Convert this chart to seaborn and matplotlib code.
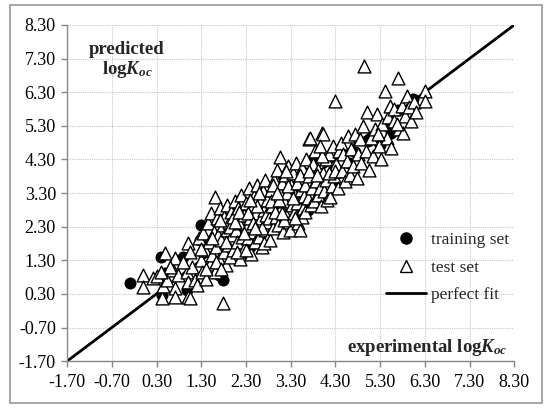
import numpy as np
import pandas as pd
import matplotlib
matplotlib.use("Agg")
import matplotlib.pyplot as plt
from matplotlib.lines import Line2D
from matplotlib.patches import Rectangle
import seaborn as sns

# training set (experimental, predicted)
train_x = [-0.29, 0.40, 0.49, 0.43, 0.90, 0.98, 1.30, 1.79, 1.70, 2.00, 2.33, 2.40,
           2.66, 2.62, 3.13, 3.62, 3.69, 3.50, 4.25, 4.41, 4.74, 5.03, 5.30, 5.41,
           5.55, 5.70, 6.04, 1.28, 1.95, 2.90, 3.30, 4.00, 4.60, 2.20, 3.80]
train_y = [0.62, 1.40, 0.92, 0.26, 1.40, 0.41, 2.35, 0.71, 0.85, 2.85, 1.51, 1.70,
           2.30, 3.24, 3.80, 3.90, 2.79, 2.85, 3.69, 4.58, 4.52, 4.85, 4.73, 5.32,
           5.09, 5.77, 6.10, 1.90, 2.40, 2.70, 3.50, 3.30, 4.20, 2.60, 4.30]

# test set (experimental, predicted)
test_x = [0.00, 0.00, 0.22, 0.31, 0.43, 0.45, 0.49, 0.54, 0.67, 0.72, 0.72, 0.72, 0.78,
          0.98, 1.00, 1.01, 1.01, 1.05, 1.05, 1.10, 1.16, 1.21, 0.60, 0.90, 0.40,
          1.25, 1.30, 1.32, 1.35, 1.38, 1.40, 1.45, 1.48, 1.50, 1.52, 1.55, 1.58, 1.60,
          1.61, 1.63, 1.65, 1.68, 1.70, 1.72, 1.75, 1.78, 1.79, 1.80, 1.82, 1.85, 1.87,
          1.88, 1.90, 1.92, 1.95, 1.97, 1.98, 1.40, 1.55, 1.72, 1.85, 1.95, 1.30, 1.62, 1.75,
          2.00, 2.02, 2.05, 2.07, 2.10, 2.12, 2.15, 2.17, 2.20, 2.22, 2.25, 2.27, 2.30,
          2.32, 2.35, 2.37, 2.40, 2.42, 2.44, 2.46, 2.48, 2.50, 2.52, 2.55, 2.57, 2.60,
          2.62, 2.64, 2.66, 2.68, 2.70, 2.72, 2.73, 2.75, 2.78, 2.80, 2.05, 2.15, 2.25,
          2.35, 2.45, 2.55, 2.65, 2.75, 2.10, 2.30, 2.50, 2.60, 2.70, 2.40,
          2.82, 2.84, 2.86, 2.88, 2.90, 2.92, 2.95, 2.97, 3.00, 3.02, 3.04, 3.07, 3.08,
          3.10, 3.12, 3.15, 3.17, 3.20, 3.22, 3.25, 3.27, 3.29, 3.30, 3.32, 3.35, 3.37,
          3.40, 3.42, 3.45, 3.47, 3.49, 3.51, 3.53, 3.55, 3.57, 3.59, 2.85, 2.95, 3.05,
          3.15, 3.25, 3.35, 3.45, 3.55, 2.90, 3.10, 3.20, 3.40, 3.50, 3.00,
          3.61, 3.63, 3.65, 3.68, 3.71, 3.72, 3.74, 3.75, 3.78, 3.80, 3.82, 3.85, 3.87,
          3.90, 3.92, 3.95, 3.97, 4.00, 4.02, 4.03, 4.05, 4.08, 4.10, 4.12, 4.15, 4.18,
          4.20, 4.22, 4.25, 4.28, 4.30, 4.32, 4.35, 4.38, 3.70, 3.88, 4.00, 4.15, 4.30, 3.95,
          4.42, 4.45, 4.48, 4.52, 4.55, 4.58, 4.62, 4.65, 4.70, 4.74, 4.78, 4.80, 4.85,
          4.88, 4.92, 4.94, 4.98, 5.00, 5.05, 5.10, 5.15, 5.18,
          5.22, 5.28, 5.32, 5.35, 5.41, 5.45, 5.48, 5.52, 5.55, 5.60, 5.62, 5.70, 5.72,
          5.78, 5.82, 5.85, 5.91, 5.95, 6.00, 6.05, 6.10, 6.31, 6.31, 5.25, 5.68]
test_y = [0.86, 0.50, 0.77, 0.83, 0.18, 0.53, 1.51, 0.70, 1.00, 1.36, 0.47, 0.21, 0.86,
          0.95, 0.21, 1.81, 0.65, 1.54, 0.18, 1.10, 0.70, 0.56, 1.10, 1.25, 0.95,
          1.95, 1.30, 0.95, 2.10, 1.60, 0.75, 2.40, 1.85, 1.20, 2.70, 1.45, 2.15, 0.95,
          3.18, 1.70, 2.55, 2.05, 1.35, 2.85, 1.90, 2.35, 0.03, 1.55, 2.60, 1.15, 2.95,
          2.20, 1.75, 2.45, 1.40, 2.75, 2.05, 1.05, 1.95, 2.50, 1.85, 2.30, 1.65, 1.25, 1.05,
          2.60, 1.60, 3.05, 2.20, 1.85, 2.85, 2.40, 1.35, 3.25, 2.00, 2.65, 1.70, 3.00,
          2.30, 1.95, 3.45, 2.55, 1.50, 2.85, 2.15, 3.20, 1.85, 2.70, 3.55, 2.35, 2.00,
          3.05, 2.55, 1.70, 3.35, 2.80, 2.20, 3.69, 2.45, 3.10, 1.95, 2.45, 2.75, 2.10,
          2.70, 2.40, 2.90, 2.25, 2.65, 1.55, 1.60, 2.25, 3.30, 1.80, 3.10,
          2.55, 1.90, 3.40, 2.90, 2.25, 3.70, 3.15, 2.60, 4.00, 2.35, 3.35, 4.37, 2.85,
          3.60, 2.15, 3.05, 3.85, 2.65, 3.30, 4.10, 2.45, 2.20, 3.55, 2.95, 3.90, 2.70,
          3.25, 4.20, 3.00, 2.40, 3.70, 2.20, 3.40, 4.05, 2.85, 3.20, 3.05, 2.75, 3.10,
          2.50, 3.50, 3.15, 3.60, 2.60, 3.55, 2.70, 3.95, 2.55, 3.85, 3.30,
          3.55, 2.75, 4.30, 3.15, 4.91, 3.80, 4.94, 2.95, 3.45, 4.15, 3.05, 4.55, 3.65,
          3.25, 4.00, 3.45, 2.90, 5.08, 3.90, 5.06, 3.35, 4.30, 3.70, 3.10, 4.45, 3.18,
          3.95, 3.50, 4.70, 3.80, 6.04, 4.15, 3.45, 4.55, 3.95, 3.85, 4.40, 3.90, 3.95, 4.70,
          4.80, 3.95, 4.45, 3.65, 4.25, 5.00, 3.85, 4.60, 4.10, 5.05, 3.75, 4.45, 4.90,
          4.20, 5.30, 7.08, 4.55, 5.71, 4.00, 4.95, 4.40, 5.20,
          5.65, 4.70, 4.30, 5.35, 6.34, 4.95, 5.55, 5.90, 4.65, 5.80, 5.45, 6.72, 5.20,
          5.90, 5.09, 5.60, 6.20, 5.85, 5.45, 6.00, 5.70, 6.34, 6.04, 5.05, 5.35]

# perfect fit (y = x) endpoints
fit_x = [-1.70, 8.30]
fit_y = [-1.70, 8.30]

ticks = [-1.70, -0.70, 0.30, 1.30, 2.30, 3.30, 4.30, 5.30, 6.30, 7.30, 8.30]

sns.set_theme(style="white")
plt.rcParams["font.family"] = ["Liberation Serif", "DejaVu Serif"]
plt.rcParams["mathtext.fontset"] = "custom"
plt.rcParams["mathtext.rm"] = "Liberation Serif:bold"
plt.rcParams["mathtext.it"] = "Liberation Serif:italic:bold"
plt.rcParams["mathtext.bf"] = "Liberation Serif:bold"

train = pd.DataFrame({"x": train_x, "y": train_y})
test = pd.DataFrame({"x": test_x, "y": test_y})
fit = pd.DataFrame({"x": fit_x, "y": fit_y})

fig = plt.figure(figsize=(5.5, 4.09), dpi=100)
ax = fig.add_axes([0.122, 0.117, 0.813, 0.822])

sns.lineplot(data=fit, x="x", y="y", color="black", lw=2, ax=ax, zorder=2)
sns.scatterplot(data=train, x="x", y="y", marker="o", s=75, color="black",
                edgecolor="black", linewidth=0, ax=ax, zorder=3)
sns.scatterplot(data=test, x="x", y="y", marker="^", s=85, facecolor="white",
                edgecolor="black", linewidth=1.0, ax=ax, zorder=4)

ax.set_xlim(-1.70, 8.30)
ax.set_ylim(-1.70, 8.30)
ax.set_xticks(ticks)
ax.set_yticks(ticks)
ax.set_xticklabels([f"{t:.2f}" for t in ticks])
ax.set_yticklabels([f"{t:.2f}" for t in ticks])
ax.tick_params(axis="both", labelsize=13, colors="#888888", labelcolor="black",
               length=4, width=1, direction="out", bottom=True, left=True)
ax.tick_params(axis="x", pad=5)
ax.tick_params(axis="y", pad=4)
ax.grid(True, linestyle=(0, (1, 1)), color="#c8c8c8", linewidth=0.8)
ax.set_axisbelow(True)
for side in ["top", "right"]:
    ax.spines[side].set_visible(False)
for side in ["left", "bottom"]:
    ax.spines[side].set_color("#888888")
    ax.spines[side].set_linewidth(1)
ax.set_xlabel("")
ax.set_ylabel("")

ax.text(0.134, 0.895, "predicted\nlog$K_{oc}$", transform=ax.transAxes,
        ha="center", va="center", fontsize=13.5, fontweight="bold", linespacing=1.05)
ax.text(0.985, 0.042, "experimental log$K_{oc}$", transform=ax.transAxes,
        ha="right", va="center", fontsize=13.5, fontweight="bold")

handles = [
    Line2D([], [], marker="o", color="black", ls="none", markersize=8),
    Line2D([], [], marker="^", markerfacecolor="white", markeredgecolor="black",
           ls="none", markersize=8, markeredgewidth=1),
    Line2D([], [], color="black", lw=2),
]
ax.legend(handles, ["training set", "test set", "perfect fit"], loc="upper left",
          bbox_to_anchor=(0.693, 0.41), frameon=False, fontsize=12.5,
          handlelength=2.3, handletextpad=0.3, labelspacing=0.65, borderpad=0)

fig.patches.append(Rectangle((0.018, 0.015), 0.968, 0.972, transform=fig.transFigure,
                             fill=False, edgecolor="#999999", linewidth=1.2))

fig.savefig("out.png", dpi=100)
